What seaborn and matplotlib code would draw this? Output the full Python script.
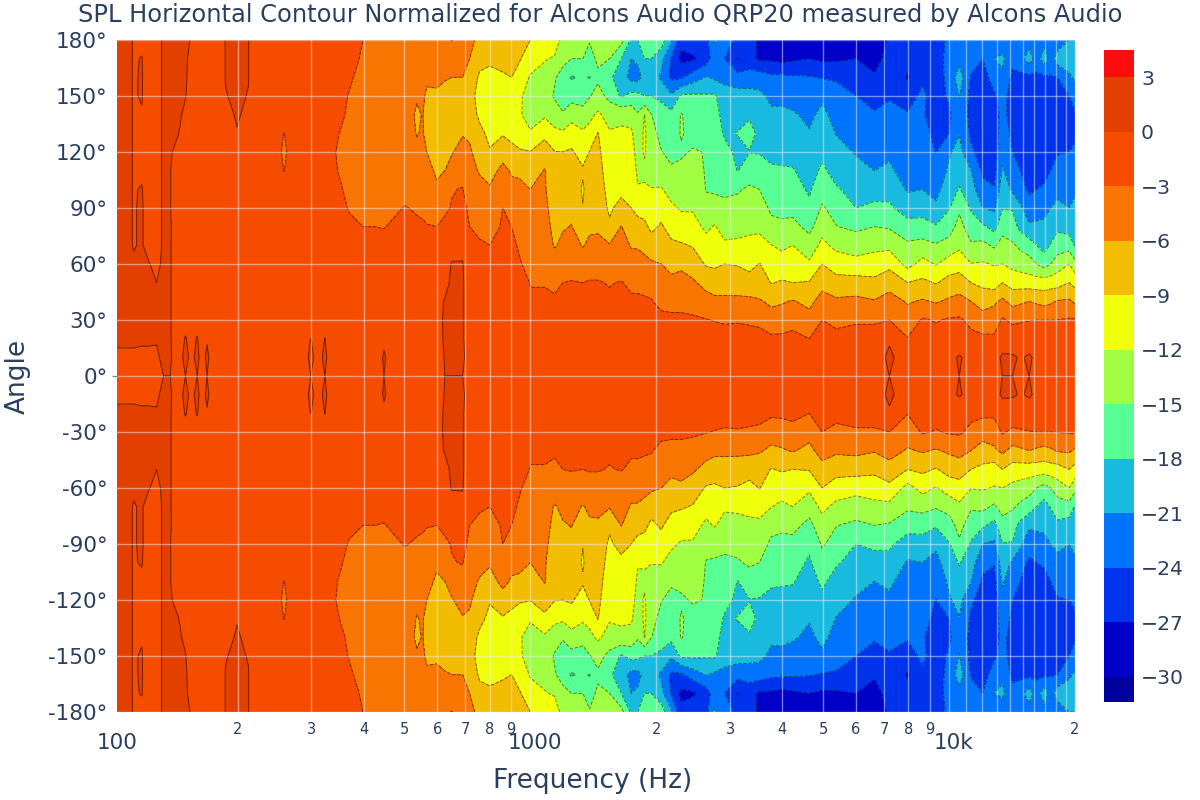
# imports
import numpy as np
import matplotlib
matplotlib.use("Agg")
import matplotlib.pyplot as plt
from matplotlib.colors import ListedColormap, BoundaryNorm
import seaborn as sns

angles_half = [0, 10, 20, 30, 40, 50, 60, 70, 80, 90, 100, 110, 120, 130, 140, 150, 160, 170, 180]

# one list per frequency, values at angles_half
s103 = [0, -.2, .2, .4, .4, .4, .4, .4, .4, .4, .4, .4, .4, .4, .4, .4, .4, .4, .4]
s108 = [0, -.3, .3, .4, .4, .4, .4, .4, .4, .4, .4, .4, .4, .4, .4, .4, .4, .4, .4]
s113 = [0, -.3, .3, .4, .3, .3, .2, -.1, -.1, -.1, -.1, -.1, -.1, -.1, -.1, -.1, -.1, -.1, -.1]
s118 = [0, -.3, .2, .3, .3, .3, .3, .2, .2, .2, .1, -.3, -.3, -.3, -.1, .1, .1, .05, -.3]
s123 = [0, -.3, .2, .2, .2, .2, .05, -1, -1, -1, -1, -1, -1, -1, -1, -1, -1, -1, -1]
s128 = [0, -.2, .1, .1, .05, 0, -.5, -1, -1, -1, -1, -1, -1, -1, -1, -1, -1, -1, -1]
s133 = [0, .3, .4, .4, .4, .4, .4, .4, .4, .4, .4, .4, .4, .4, .4, .4, .4, .4, .4]
s138 = [0, .1, .1, .1, .1, .1, .1, .1, .1, .05, .05, .05, .1, .2, .3, .4, .4, .4, .4]
s144 = [0, -.5, -.8, -.8, -.8, -.8, -.8, -.8, -.8, -.8, -.8, -.8, -.3, .05, .2, .3, .3, .3, .3]
s150 = [0, .3, .1, -.5, -.8, -.8, -.8, -.8, -.8, -.8, -.8, -.8, -.8, -.5, -.2, .05, .1, .1, .15]
s155 = [0, -.3, -.5, -1, -1, -1, -1, -1, -1, -1, -1, -1, -1, -1, -.8, -.5, -.3, -.2, -.05]
s160 = [0, .3, .1, -.6, -1, -1, -1, -1, -1, -1, -1, -1, -1, -1, -1, -1, -1, -1, -1]
s164 = [0, -.4, -.7, -1, -1, -1, -1, -1, -1, -1, -1, -1, -1, -1, -1, -1, -1, -1, -1]
s169 = [0, .2, -.1, -1, -1, -1, -1, -1, -1, -1, -1, -1, -1, -1, -1, -1, -1, -1, -1]
s178 = [0, -1, -1, -1, -1, -1, -1, -1, -1, -1, -1, -1, -1, -1, -1, -1, -1, -1, -1]
s187 = [0, -1, -1, -1, -1, -1, -1, -1, -1, -1, -1, -1, -1, -.8, -.3, -.05, .05, .05, .05]
s199 = [0, -1, -1, -1, -1, -1, -1, -1, -1, -1, -1, -1, -1, -.05, .1, .2, .2, .2, .2]
s212 = [0, -1, -1, -1, -1, -1, -1, -1, -1, -1, -1, -1, -1, -1, -.2, -.05, .05, .05, .05]
s223 = [0, -1, -1, -1, -1, -1, -1, -1, -1, -1, -1, -1, -1, -1, -1, -1, -1, -1, -1]
s245 = [0, -1, -1, -1, -1, -1, -1, -1, -1, -1, -1, -1, -1, -1, -1, -1, -1, -1, -1]
s258 = [0, -1, -1, -1, -1, -1, -1, -1, -1, -1, -1, -3.1, -3.8, -3.1, -1, -1, -1, -1, -1]
s271 = [0, -1, -1, -1, -1, -1, -1, -1, -1, -1, -1, -1, -1, -1, -1, -1, -1, -1, -1]
s281 = [0, -1, -1, -1, -1, -1, -1, -1, -1, -1, -1, -1, -1, -1, -1, -1, -1, -1, -1]
s299 = [0, .3, .05, -1, -1, -1, -1, -1, -1, -1, -1, -1, -1, -1, -1, -1, -1, -1, -1]
s311 = [0, -.5, -1, -1, -1, -1, -1, -1, -1, -1, -1, -1, -1, -1, -1, -1, -1, -1, -1]
s323 = [0, .3, .05, -1, -1, -1, -1, -1, -1, -1, -1, -1, -1, -1, -1, -1, -1, -1, -1]
s332 = [0, -.5, -1, -1, -1, -1, -1, -1, -1, -1.2, -1.5, -2, -2.4, -2, -2, -2, -1.5, -1.5, -1.5]
s343 = [0, -1, -1, -1, -1, -1, -1, -1, -1.5, -2, -2.5, -2.9, -3, -2.8, -2.6, -2.4, -2.2, -2, -2]
s370 = [0, -1, -1, -1, -1, -1, -1.5, -2, -2.5, -3.2, -3.5, -3.7, -3.8, -3.6, -3.2, -3.1, -2.8, -2.5, -2.3]
s398 = [0, -1, -1, -1, -1, -1, -1.5, -2.2, -3, -3.5, -4, -4.3, -4.5, -4.4, -4.2, -3.8, -3.5, -3.2, -3]
s427 = [0, -1, -1, -1, -1, -1, -1.5, -2.3, -3, -3.6, -4, -4.3, -4.6, -4.6, -4.5, -4.4, -4.2, -4, -3.9]
s447 = [0, .2, -.3, -1, -1, -1, -1.5, -2.3, -3.1, -3.7, -4, -4.4, -4.7, -4.8, -4.8, -4.7, -4.6, -4.5, -4.5]
s464 = [0, -.6, -1, -1, -1, -1, -1.4, -2, -2.8, -3.5, -4, -4.4, -4.8, -5, -5, -4.9, -4.8, -4.8, -4.9]
s501 = [0, -1, -1, -1, -1, -1, -1.2, -1.8, -2.5, -2.9, -3.6, -4.2, -4.6, -5, -5, -5, -5.2, -5.3, -5.5]
s536 = [0, -1, -1, -1, -1, -1.2, -1.5, -2, -2.7, -3.2, -4, -5, -5.6, -6.1, -6.3, -5.8, -5, -4.7, -4.5]
s553 = [0, -1, -1, -1, -1, -1.2, -1.5, -2.2, -2.8, -3.3, -4, -4.7, -5.5, -5.8, -5.9, -5.5, -5, -4.8, -4.6]
s566 = [0, -1, -1, -.9, -1, -1.2, -1.6, -2.3, -2.9, -3.6, -4.5, -5, -6, -6.8, -7, -6.5, -5.5, -4.8, -4.5]
s597 = [0, -.8, -.6, -.5, -.5, -1, -1.5, -2.3, -3, -3.9, -5.5, -6.5, -7.5, -8, -7.5, -6.5, -5.3, -4.7, -4.4]
s625 = [0, .1, .2, .2, .1, -.5, -1, -1.8, -2.6, -3.3, -4.5, -6, -7, -7.8, -7.5, -6.8, -5.8, -4.8, -3.6]
s649 = [0, .3, .4, .4, .4, .3, .15, -1, -2, -2.9, -3.1, -5, -6.2, -7.2, -7.5, -7, -6, -4.7, -2.9]
s689 = [0, .2, .2, .2, .2, .2, .1, -.5, -1.5, -2.2, -2.9, -3.8, -5, -6.2, -7, -7, -6, -4.5, -3.9]
s716 = [0, -.5, -1, -1, -1, -1, -1.5, -2.2, -3, -3.6, -4.3, -5, -5.7, -6.3, -7, -7.5, -7, -6, -5]
s757 = [0, -1, -1, -1, -1, -1.2, -1.8, -2.8, -3.4, -4, -5, -6.3, -7, -8, -9.8, -10.5, -9.5, -8, -7]
s800 = [0, -1, -1, -1, -1, -1.2, -1.9, -3, -3.7, -4.5, -5.7, -7, -8.7, -10, -11, -11, -10.5, -8, -7.5]
s859 = [0, -1, -1, -1, -1, -1.2, -1.8, -2.5, -2.8, -3, -3.9, -5.3, -7, -9.3, -10.5, -9.5, -9.2, -8.5, -7.5]
s902 = [0, -1, -1, -1, -1, -1.3, -1.9, -2.5, -3, -4, -5.3, -6.3, -8, -10, -11, -10.5, -9, -8, -7.5]
s943 = [0, -1, -1, -1, -1.5, -2, -2.8, -3.3, -4, -4.8, -5.6, -6.3, -8.8, -10, -11.8, -11.5, -10, -8.8, -8]
s1000 = [0, -1, -1.8, -2.3, -2.7, -3.1, -3.8, -4.4, -5, -5.5, -6, -7.8, -8.9, -11.8, -12.8, -13.5, -12.3, -10.5, -9]
s1082 = [0, -.9, -1.7, -2.2, -2.7, -3.1, -3.6, -4.2, -4.8, -5.3, -5.7, -5.8, -7.8, -9.6, -12.5, -13.5, -13, -11.8, -10]
s1143 = [0, -1, -1.8, -2.3, -2.8, -3.3, -4.3, -6.3, -6.9, -7.4, -7.9, -8.3, -8.9, -11.2, -13.8, -15.3, -14.7, -12.3, -10.5]
s1196 = [0, -1, -1.8, -2.3, -2.7, -3, -3.9, -5.2, -6.3, -7, -7.7, -8.3, -9, -11.5, -14.7, -16.5, -16.3, -14, -13]
s1253 = [0, -.9, -1.7, -2.2, -2.6, -2.9, -3.8, -4.9, -5.9, -6.6, -7.3, -8, -8.7, -10.3, -13.3, -16, -18.3, -15, -13.5]
s1335 = [0, -.9, -1.7, -2.2, -2.6, -3, -4.1, -6.2, -7.2, -8.9, -9.3, -8.7, -10, -11.5, -14, -16.2, -17.5, -15, -13]
s1385 = [0, -.9, -1.7, -2.2, -2.6, -2.9, -3.6, -5.4, -6.5, -7, -7.6, -8.2, -8.9, -11, -12.8, -15.2, -18.2, -16, -14.8]
s1450 = [0, -.9, -1.7, -2.2, -2.6, -2.9, -3.6, -5.5, -6.3, -6.8, -7.3, -7.8, -8.3, -8.9, -11.5, -14, -15.5, -14.5, -13]
s1546 = [0, -.9, -1.7, -2.3, -2.7, -3.1, -4.1, -5.8, -8.4, -9.6, -10.2, -10.8, -11.2, -11.7, -13.2, -15.8, -17.5, -15, -13.5]
s1649 = [0, -.8, -1.6, -2.2, -2.6, -2.9, -4, -5, -5.9, -7.7, -10, -10.7, -11.2, -11.6, -12.6, -18.4, -19.5, -18, -14]
s1742 = [0, -.8, -1.5, -2, -2.7, -3.4, -5, -6.2, -7.6, -9, -9.8, -10.4, -11, -11.6, -13, -17, -22, -21, -18.5]
s1806 = [0, -.8, -1.5, -2, -2.7, -3.4, -4.8, -6.3, -8, -9.9, -11.8, -12.5, -13, -13.6, -14.7, -17.2, -22, -20.5, -18]
s1874 = [0, -.8, -1.5, -2, -2.8, -3.5, -5, -7, -8.5, -9.8, -11.7, -12.5, -11.7, -11.5, -11.9, -18, -20, -18, -16]
s1945 = [0, -.8, -1.5, -2.1, -2.9, -3.6, -5.5, -8, -9.5, -10.5, -11.9, -13, -14, -14.3, -14.9, -18, -19.5, -18, -16]
s2054 = [0, -.8, -1.6, -2.5, -3.5, -4.8, -6, -7.5, -8.7, -10, -11.8, -13.5, -14.9, -15.6, -16.8, -18.6, -21.5, -20, -16.5]
s2171 = [0, -.8, -1.6, -2.6, -3.6, -5.2, -7, -8.5, -10, -11.5, -13, -14.7, -15.6, -16.4, -17.2, -20.5, -24.6, -24.3, -20.5]
s2293 = [0, -.8, -1.6, -2.6, -3.6, -4.6, -6.8, -8.7, -10.7, -12.3, -13.3, -14.5, -15.3, -14.8, -14.8, -17.5, -24.5, -27.8, -26]
s2444 = [0, -.8, -1.6, -2.7, -3.8, -5.6, -7.4, -9.2, -10.9, -12.3, -13.2, -14, -14.8, -15.7, -16.4, -17.5, -22.5, -27.5, -25]
s2630 = [0, -.8, -1.9, -2.9, -4.8, -7, -9.3, -10.9, -12.6, -14.4, -15.1, -15.2, -15.1, -15.5, -16.5, -17.7, -20.8, -25.5, -25]
s2754 = [0, -.8, -1.9, -3.1, -5.2, -7.7, -9.4, -10.8, -11.8, -13.8, -15.4, -16, -16.4, -16.7, -17, -17.6, -21.5, -22.5, -20.5]
s2909 = [0, -.7, -2, -3.3, -5.4, -7.3, -9, -11.6, -13, -14.5, -15.4, -16.2, -17.2, -18.3, -19, -19.8, -21.8, -24, -23]
s3130 = [0, -.7, -2, -3.2, -5.4, -7.4, -9.2, -11.3, -13.2, -14.4, -15.2, -18.1, -18.6, -17.9, -18.8, -19.6, -23, -27.2, -24.5]
s3337 = [0, -.7, -2, -3.4, -5.4, -7.8, -9.9, -11.4, -12.5, -13.4, -14.7, -16, -18.1, -17, -18.4, -20, -22.5, -26, -24.5]
s3526 = [0, -.7, -2.1, -3.6, -5.7, -7.9, -8.9, -11, -12.6, -13.7, -15, -16.5, -18.2, -18.7, -19.5, -20.3, -22.5, -27.5, -28]
s3760 = [0, -.8, -2.5, -4.7, -6.6, -9.1, -10.2, -11.9, -14.2, -15.5, -16.5, -17.6, -18.7, -19.6, -20.5, -21.6, -23.3, -27.5, -28]
s3985 = [0, -.8, -2.5, -4.4, -6.3, -8.8, -10.2, -12.8, -14.5, -15.7, -16.8, -17.7, -18.8, -19.6, -20.4, -21.7, -23.4, -28, -28.5]
s4233 = [0, -.7, -2.2, -4, -5.8, -9, -10.4, -12, -14.2, -15.8, -16.9, -17.8, -18.9, -19.8, -20.7, -22, -23.6, -27.5, -27]
s4640 = [0, -.9, -3, -4.9, -6.8, -8.8, -11.5, -13.8, -15.8, -17.4, -18.4, -19.2, -20, -20.8, -21.6, -22.7, -23.8, -27, -28]
s4977 = [0, -.7, -2, -3, -4.8, -7, -9, -11.2, -13.2, -14.7, -16, -17.5, -18.6, -19.4, -20.3, -21.5, -24.2, -27.5, -28.5]
s5374 = [0, -.7, -2.2, -3.7, -5.5, -8, -10.3, -12.8, -14.9, -16, -17.7, -19, -20.1, -21.1, -22, -23, -24.3, -27.5, -28.5]
s5998 = [0, -.7, -2, -3.3, -5.3, -7.8, -11, -13.4, -15.6, -18, -19, -20.3, -21.2, -22, -23, -24, -25.5, -27, -27.5]
s6634 = [0, -.7, -2, -3.3, -5.8, -8.3, -10.6, -12.8, -15, -17.2, -19.5, -21, -22, -22.8, -23.7, -25, -26.7, -28, -29]
s7204 = [0, .3, -.2, -3, -4.8, -7.2, -9.8, -12.8, -15.3, -17.5, -19, -20.5, -21.5, -22.5, -23.4, -24.2, -25, -26, -26.5]
s7965 = [0, -.9, -2.9, -4.6, -6.3, -9, -13, -14.5, -16.8, -19.5, -21.3, -22.3, -23, -23.4, -23.8, -25, -27.3, -26, -25.5]
s8650 = [0, -.6, -1.8, -2.7, -5.7, -8.4, -11, -14, -16.9, -19.2, -21, -22, -22.6, -23.2, -23.8, -23.5, -24.5, -25, -25.5]
s9312 = [0, -.6, -2, -3.2, -6.3, -9.2, -12.2, -14.7, -17.7, -20.5, -21.8, -22.8, -24.1, -24.6, -25, -25.4, -25.5, -25.5, -25]
s10016 = [0, -.5, -1.8, -2.7, -5.5, -8, -10.5, -14, -16.2, -18.2, -19.5, -20.5, -21.3, -24, -24.5, -23.5, -23, -22.8, -23.5]
s10583 = [0, .2, -1.5, -2.6, -5, -7.6, -10.2, -12.6, -14, -15.5, -17.8, -19, -20.1, -21.1, -21.6, -20.9, -19.5, -22, -24]
s11285 = [0, -.7, -2.3, -3.7, -6, -9, -11.9, -14.6, -16.6, -18.3, -19.7, -20.9, -23.5, -24.5, -25, -25, -24.2, -23, -23]
s12030 = [0, -.7, -2.5, -4.5, -7.5, -9.6, -11.7, -14.2, -17.5, -21, -23.2, -24.5, -25.3, -26.2, -26.5, -26, -25.5, -24, -22]
s12826 = [0, -.7, -2.5, -4.5, -6.5, -10.5, -12.2, -15.5, -19, -21.5, -23.8, -25, -25.5, -25.2, -25, -24.5, -22.5, -21, -22]
s13422 = [0, .3, -1.2, -2.7, -5.4, -9, -12, -13.8, -16.2, -18.1, -19.3, -20.6, -22, -22.8, -23.3, -23, -21.5, -20.5, -22.5]
s14183 = [0, .3, -1.5, -3.5, -7, -10.2, -12.8, -14.6, -16.8, -18.2, -21.5, -23, -24, -24.5, -25, -25.2, -24.8, -23, -23]
s14800 = [0, -.2, -1.4, -3.3, -6.5, -10.3, -13.3, -15.6, -18.8, -20.5, -23, -24, -24.8, -25.2, -25.5, -25.5, -24.8, -22, -23]
s15546 = [0, .3, -1.3, -3.1, -6, -10.5, -13.8, -16.6, -20.5, -22.8, -24.5, -25, -25.5, -26, -26, -25.8, -24.8, -19.5, -22.5]
s16200 = [0, -.5, -1.6, -3, -6.5, -10.5, -15, -18, -20.4, -22.3, -24, -25, -25.5, -25.9, -25.8, -25.4, -24.6, -22.5, -22.3]
s16885 = [0, -.7, -1.9, -3, -7, -10.5, -16.2, -19.2, -20.4, -21.8, -23.6, -25, -25.5, -25.8, -25.5, -25, -24.5, -19.5, -22]
s17500 = [0, -.7, -2, -3, -6.5, -10.3, -15, -17.8, -19.5, -21, -22.5, -24, -24.8, -25.4, -25.2, -24.6, -24.2, -22.5, -22.5]
s18163 = [0, -.7, -2, -3, -5.8, -10.2, -13.5, -16.5, -18.6, -20.4, -21.7, -23, -24.2, -25, -24.8, -24.3, -24, -19.5, -23]
s19367 = [0, -.9, -1.9, -2.7, -5.6, -9, -12, -16.3, -19.3, -21, -22.3, -23.2, -24, -24.8, -25, -24, -21.5, -19.5, -21]
s20000 = [0, -1, -2, -2.8, -6.5, -10, -14, -18.3, -19.5, -20.5, -21.3, -22.5, -23.5, -24.5, -24.3, -23, -20.5, -19.8, -21]

freqs = [103, 108, 113, 118, 123, 128, 133, 138, 144, 150, 155, 160, 164, 169, 178, 187, 199, 212, 223, 245,
         258, 271, 281, 299, 311, 323, 332, 343, 370, 398, 427, 447, 464, 501, 536, 553, 566, 597,
         625, 649, 689, 716, 757, 800, 859, 902, 943, 1000, 1082, 1143, 1196, 1253, 1335, 1385, 1450,
         1546, 1649, 1742, 1806, 1874, 1945, 2054, 2171, 2293, 2444, 2630, 2754, 2909, 3130, 3337,
         3526, 3760, 3985, 4233, 4640, 4977, 5374, 5998, 6634, 7204, 7965, 8650, 9312, 10016, 10583,
         11285, 12030, 12826, 13422, 14183, 14800, 15546, 16200, 16885, 17500, 18163, 19367, 20000]
columns = [s103, s108, s113, s118, s123, s128, s133, s138, s144, s150, s155, s160, s164, s169, s178, s187, s199, s212, s223, s245,
           s258, s271, s281, s299, s311, s323, s332, s343, s370, s398, s427, s447, s464, s501, s536, s553, s566, s597,
           s625, s649, s689, s716, s757, s800, s859, s902, s943, s1000, s1082, s1143, s1196, s1253, s1335, s1385, s1450,
           s1546, s1649, s1742, s1806, s1874, s1945, s2054, s2171, s2293, s2444, s2630, s2754, s2909, s3130, s3337,
           s3526, s3760, s3985, s4233, s4640, s4977, s5374, s5998, s6634, s7204, s7965, s8650, s9312, s10016, s10583,
           s11285, s12030, s12826, s13422, s14183, s14800, s15546, s16200, s16885, s17500, s18163, s19367, s20000]

# colour bands, lowest first
band_edges = [-31.4, -30, -27, -24, -21, -18, -15, -12, -9, -6, -3, 0, 3, 4.5]
band_colors = ["#00009e", "#0000c8", "#0033ee", "#0073ff", "#18bbdf", "#58ff94", "#a0ff42",
               "#f0ff0a", "#f2bd00", "#f77500", "#f54c00", "#e34000", "#ff0d0d"]
bar_ticks = [-30, -27, -24, -21, -18, -15, -12, -9, -6, -3, 0, 3]

y_ticks = [-180, -150, -120, -90, -60, -30, 0, 30, 60, 90, 120, 150, 180]
x_major = [100, 1000, 10000]
x_major_labels = ["100", "1000", "10k"]
x_minor = [200, 300, 400, 500, 600, 700, 800, 900, 2000, 3000, 4000, 5000, 6000, 7000, 8000, 9000,
           11000, 12000, 13000, 14000, 15000, 16000, 17000, 18000, 19000, 20000]
x_minor_labels = ["2", "3", "4", "5", "6", "7", "8", "9", "2", "3", "4", "5", "6", "7", "8", "9",
                  "", "", "", "", "", "", "", "", "", "2"]

title = "SPL Horizontal Contour Normalized for Alcons Audio QRP20 measured by Alcons Audio"
ink = "#2a3f5f"

# mirror the top half to get the full circle
half = np.array(columns).T
spl = np.vstack([half[:0:-1], half])
angles = np.array([-a for a in angles_half[:0:-1]] + angles_half)

sns.set_theme(style="white", font="DejaVu Sans")
cmap = ListedColormap(sns.color_palette(band_colors))
norm = BoundaryNorm(band_edges, cmap.N)

# plot area starts at 100 Hz, the data only at 103 Hz
fig = plt.figure(figsize=(12, 8), dpi=100)
ax = fig.add_axes([111.7 / 1200, 88 / 800, 963.3 / 1200, 672 / 800])
filled = ax.contourf(freqs, angles, spl, levels=band_edges, cmap=cmap, norm=norm)
ax.contour(freqs, angles, spl, levels=band_edges[1:-1], colors="black", linewidths=0.7, alpha=0.5)
ax.hlines(0, x_major[0], freqs[0], color="black", linewidth=0.8)

ax.set_xscale("log")
ax.set_xlim(100, 20000)
ax.set_ylim(-180, 180)
ax.set_yticks(y_ticks)
ax.set_yticklabels([f"{a}°" for a in y_ticks], fontsize=15.5, color=ink)
ax.set_xticks(x_major)
ax.set_xticklabels([])
ax.set_xticks(x_minor, minor=True)
ax.set_xticklabels(x_minor_labels, minor=True, fontsize=10.5, color=ink)
ax.tick_params(axis="both", which="both", length=0)
ax.tick_params(axis="x", which="minor", pad=7)
ax.tick_params(axis="y", pad=3)
ax.grid(True, which="both", color="#ebf0f8", linewidth=1, alpha=0.5)
ax.set_axisbelow(False)
for spine in ax.spines.values():
    spine.set_visible(False)

# big decade labels sit a bit lower and to the right of their tick
for f, label in zip(x_major, x_major_labels):
    ax.annotate(label, xy=(f, 0), xycoords=("data", "axes fraction"), xytext=(3.6, -22.3),
                textcoords="offset points", ha="center", va="center", fontsize=15.5,
                color=ink, annotation_clip=False)

ax.set_xlabel("Frequency (Hz)", fontsize=19, color=ink, va="center")
ax.xaxis.set_label_coords(593 / 1200, 19 / 800, transform=fig.transFigure)
ax.set_ylabel("Angle", fontsize=19, color=ink, va="center")
ax.yaxis.set_label_coords(18 / 1200, 424 / 800, transform=fig.transFigure)
fig.text(600 / 1200, 785 / 800, title, ha="center", va="center", fontsize=17.4, color=ink)

# colour bar on the right
cax = fig.add_axes([1104 / 1200, 98 / 800, 30 / 1200, 652 / 800])
bar = fig.colorbar(filled, cax=cax, ticks=bar_ticks, spacing="proportional")
bar.ax.set_yticklabels([str(t).replace("-", "\u2212") for t in bar_ticks], fontsize=14.7, color=ink)
bar.ax.minorticks_off()
bar.ax.tick_params(length=0, pad=5)
bar.outline.set_visible(False)
bar.dividers.set_color("black")
bar.dividers.set_alpha(0.5)
bar.dividers.set_linewidth(0.6)

fig.savefig("out.png", dpi=100)
